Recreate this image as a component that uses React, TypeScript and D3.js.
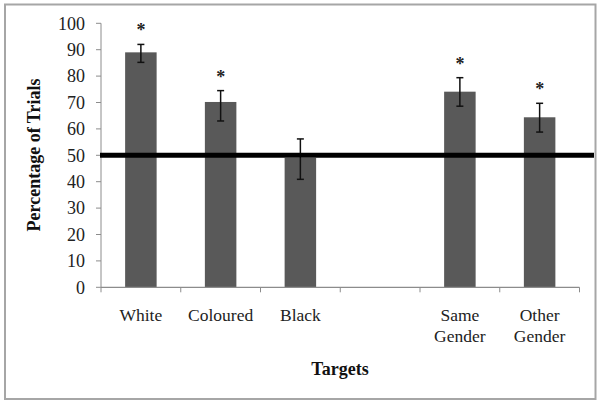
import React from "react";
import * as d3 from "d3";

const categories = ["White", "Coloured", "Black", "", "Same Gender", "Other Gender"];
const values = [89, 70.2, 49, null, 74.1, 64.4];
const errLow = [85.2, 63, 40.9, null, 68.6, 58.8];
const errHigh = [92, 74.5, 56.2, null, 79.4, 69.7];
const significant = [true, true, false, false, true, true];
const yTicks = [0, 10, 20, 30, 40, 50, 60, 70, 80, 90, 100];
const chanceLevel = 50;

const W = 602, H = 405;
const L = 101, R = 579.5, T = 23.3, B = 287.3;

export default function App() {
  const x = d3.scaleBand<string>().domain(categories.map((c, i) => String(i))).range([L, R]).paddingInner(0).paddingOuter(0);
  const y = d3.scaleLinear().domain([0, 100]).range([B, T]);
  const bw = x.bandwidth() * 0.395;
  const serif = "'Liberation Serif', 'Times New Roman', serif";
  return (
    <svg width={W} height={H} style={{ position: "absolute", left: 0, top: 0 }}>
      <rect x={0} y={0} width={W} height={H} fill="#fff" />
      <rect x={5} y={4.5} width={590.5} height={394.5} fill="none" stroke="#a6a6a6" strokeWidth={2} />
      {values.map((v, i) =>
        v == null ? null : (
          <rect key={"b" + i} x={x(String(i))! + x.bandwidth() / 2 - bw / 2} y={y(v)} width={bw} height={y(0) - y(v)} fill="#595959" />
        )
      )}
      <line x1={L} x2={L} y1={T} y2={B} stroke="#8c8c8c" strokeWidth={1} />
      {yTicks.map((t) => (
        <g key={"yt" + t}>
          <line x1={L - 5} x2={L} y1={y(t)} y2={y(t)} stroke="#8c8c8c" />
          <text x={L - 16} y={y(t)} dy="0.35em" textAnchor="end" fontFamily={serif} fontSize={18} fill="#222">{t}</text>
        </g>
      ))}
      <line x1={L} x2={R} y1={B} y2={B} stroke="#8c8c8c" strokeWidth={1.2} />
      {categories.map((c, i) => (
        <line key={"xt" + i} x1={x(String(i))!} x2={x(String(i))!} y1={B} y2={B + 5} stroke="#8c8c8c" />
      ))}
      <line x1={R} x2={R} y1={B} y2={B + 5} stroke="#8c8c8c" />
      {categories.map((c, i) => {
        const words = c.split(" ");
        const cx = x(String(i))! + x.bandwidth() / 2;
        return (
          <text key={"xl" + i} x={cx} y={321} textAnchor="middle" fontFamily={serif} fontSize={17.5} fill="#222">
            {words.map((w, j) => (
              <tspan key={j} x={cx} dy={j === 0 ? 0 : 21}>{w}</tspan>
            ))}
          </text>
        );
      })}
      {values.map((v, i) => {
        if (v == null) return null;
        const cx = x(String(i))! + x.bandwidth() / 2;
        return (
          <g key={"e" + i} stroke="#111" strokeWidth={1.5}>
            <line x1={cx} x2={cx} y1={y(errLow[i]!)} y2={y(errHigh[i]!)} />
            <line x1={cx - 3.5} x2={cx + 3.5} y1={y(errLow[i]!)} y2={y(errLow[i]!)} />
            <line x1={cx - 3.5} x2={cx + 3.5} y1={y(errHigh[i]!)} y2={y(errHigh[i]!)} />
          </g>
        );
      })}
      <line x1={L - 1} x2={594} y1={y(chanceLevel)} y2={y(chanceLevel)} stroke="#000" strokeWidth={5} />
      {values.map((v, i) => {
        if (!significant[i] || v == null) return null;
        const cx = x(String(i))! + x.bandwidth() / 2;
        return (
          <text key={"s" + i} x={cx} y={y(errHigh[i]!) - 8} textAnchor="middle" fontFamily={serif} fontSize={18} fontWeight="bold" fill="#222">*</text>
        );
      })}
      <text transform={`translate(40,155) rotate(-90)`} textAnchor="middle" fontFamily={serif} fontSize={18} fontWeight="bold" fill="#111">Percentage of Trials</text>
      <text x={340} y={375} textAnchor="middle" fontFamily={serif} fontSize={18} fontWeight="bold" fill="#111">Targets</text>
    </svg>
  );
}
